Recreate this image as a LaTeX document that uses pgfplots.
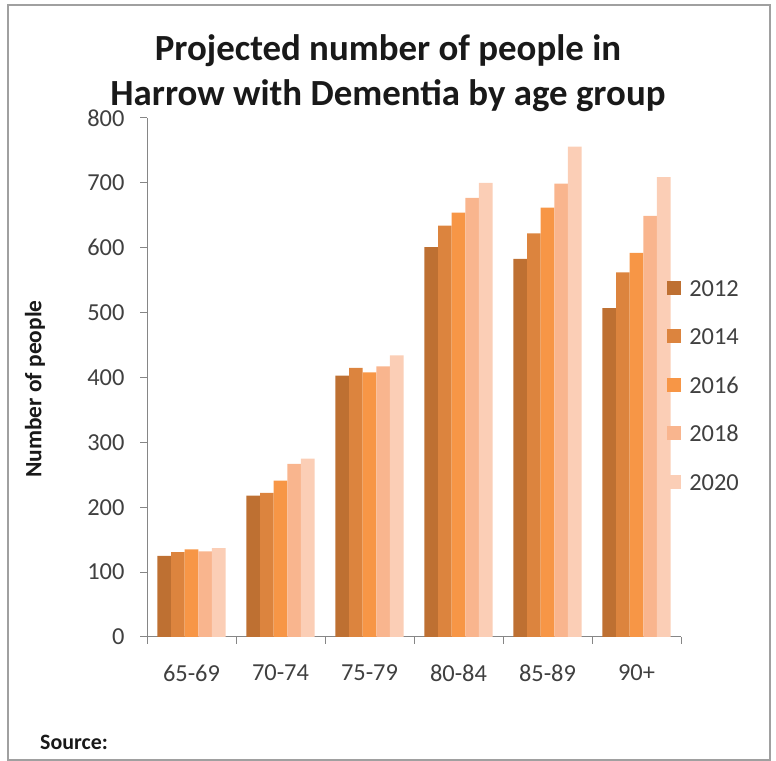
\documentclass[border=0pt]{standalone}
\usepackage{fontspec}
\setmainfont{Carlito}
\usepackage{pgfplots}
\pgfplotsset{compat=1.18}
\definecolor{cA}{RGB}{190,112,50}
\definecolor{cB}{RGB}{220,132,62}
\definecolor{cC}{RGB}{247,150,70}
\definecolor{cD}{RGB}{249,181,142}
\definecolor{cE}{RGB}{251,206,182}
\definecolor{axisgray}{RGB}{134,134,134}
\definecolor{labelgray}{RGB}{64,64,64}
\definecolor{framegray}{RGB}{160,160,160}
\begin{document}
\begin{tikzpicture}[x=1bp,y=1bp]
\useasboundingbox (0,0) rectangle (776,761);
\coordinate (O) at (147,124);
\draw[framegray, line width=1.5bp] (8,1) rectangle (770,756);
\node[font=\bfseries\fontsize{37}{45}\selectfont, align=center, text=black!90] at (388,688) {Projected number of people in\\Harrow with Dementia by age group};
\node[font=\bfseries\fontsize{23.5}{26}\selectfont, rotate=90, text=black!90] at (35,372) {Number of people};
\node[anchor=west, font=\bfseries\fontsize{22}{24}\selectfont, text=black!90, inner sep=0pt] at (40,19) {Source:};
\begin{axis}[
  at={(O)}, anchor=origin, scale only axis,
  width=534bp, height=519bp,
  ymin=0, ymax=800, ytick={0,100,...,800},
  xmin=0, xmax=6,
  xtick={0,1,...,6}, xticklabels={,,,,,,},
  extra x ticks={0.5,1.5,2.5,3.5,4.5,5.5},
  extra x tick labels={65-69,70-74,75-79,80-84,85-89,90+},
  extra x tick style={major tick length=0pt, xticklabel style={yshift=-24bp}},
  axis x line*=bottom, axis y line*=left,
  axis line style={draw=axisgray, line width=1bp, -},
  tick align=outside, major tick length=7bp,
  tick style={draw=axisgray, line width=1bp},
  ticklabel style={font=\fontsize{24.5}{28}\selectfont, text=labelgray},
  yticklabel style={xshift=-12bp},
  /pgf/number format/assume math mode=true,
  ybar=0pt, bar width=0.153,
  legend style={at={(0.974,0.690)}, anchor=north west, draw=none, fill=none,
    font=\fontsize{24.5}{28}\selectfont, text=labelgray, inner sep=0pt,
    row sep=31.5bp, nodes={inner sep=0pt, text height=17bp, text depth=0bp},
    /tikz/every odd column/.append style={column sep=8bp}},
  legend cell align=left,
  legend image code/.code={\fill[#1,draw=none] (0bp,-7bp) rectangle (14bp,7bp);},
]
\addplot[fill=cA, draw=none] coordinates {(0.5,125) (1.5,218) (2.5,403) (3.5,601) (4.5,583) (5.5,507)};
\addplot[fill=cB, draw=none] coordinates {(0.5,131) (1.5,222) (2.5,415) (3.5,634) (4.5,622) (5.5,562)};
\addplot[fill=cC, draw=none] coordinates {(0.5,135) (1.5,241) (2.5,408) (3.5,654) (4.5,662) (5.5,592)};
\addplot[fill=cD, draw=none] coordinates {(0.5,132) (1.5,267) (2.5,417) (3.5,677) (4.5,699) (5.5,649)};
\addplot[fill=cE, draw=none] coordinates {(0.5,137) (1.5,275) (2.5,434) (3.5,700) (4.5,756) (5.5,709)};
\legend{2012,2014,2016,2018,2020}
\end{axis}
\end{tikzpicture}
\end{document}
